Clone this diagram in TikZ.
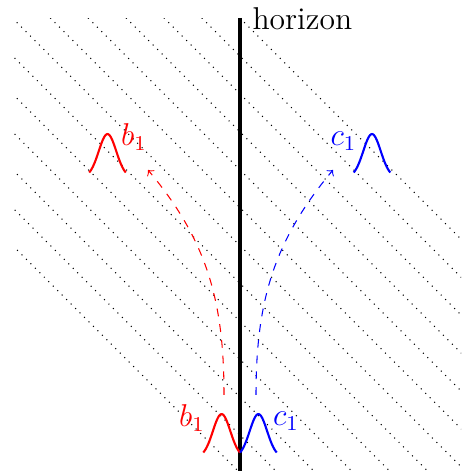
\documentclass[tikz,border=0pt]{standalone}
\begin{document}
\begin{tikzpicture}[x=0.38pt,y=0.38pt,
  dotline/.style={dotted,black},
  horizonline/.style={line width=1.15pt,black},
  flight/.style={dashed,->},
  lbl/.style={font=\large},
  gbump/.pic={\draw[line width=0.8pt] plot[domain=-1:1,samples=41,smooth] ({18.3*\x},{43.2*(exp(-2.2*\x*\x)-exp(-2.2))});}]
\useasboundingbox (0,0) rectangle (464,471);
\begin{scope}
  \clip (14,0) rectangle (461,452);
  \foreach \k in {0,...,12}{
    \pgfmathsetmacro\cc{-233+37.9*\k}
    \draw[dotline] (\cc,471) -- (\cc+500,-29);
  }
\end{scope}
\coordinate (htop) at (240,453);
\coordinate (hbot) at (240,0);
\draw[horizonline] (htop) -- (hbot);
\node[lbl,anchor=west,inner sep=0pt] (hlabel) at (252,452) {horizon};
\pic[red] (bbot) at (221.6,18.5) {gbump};
\pic[blue] (cbot) at (258.4,18.5) {gbump};
\pic[red] (btop) at (107.5,298.5) {gbump};
\pic[blue] (ctop) at (372,298.5) {gbump};
\node[lbl,red] (lbbot) at (192,53) {$b_1$};
\node[lbl,blue] (lcbot) at (286,49.5) {$c_1$};
\node[lbl,red] (lbtop) at (134,334) {$b_1$};
\node[lbl,blue] (lctop) at (343.5,329.5) {$c_1$};
\coordinate (rs) at (224,76);
\coordinate (re) at (148,301);
\coordinate (bs) at (256,76);
\coordinate (be) at (333,301);
\draw[flight,red] (rs) to[out=90,in=-50] (re);
\draw[flight,blue] (bs) to[out=90,in=230] (be);
\end{tikzpicture}
\end{document}
